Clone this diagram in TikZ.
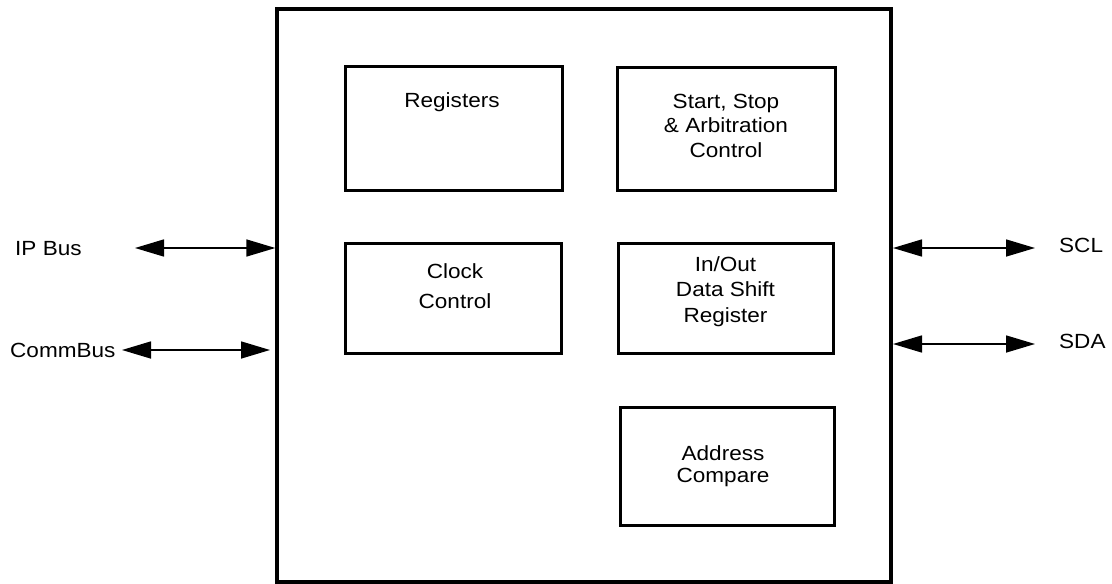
\documentclass[tikz,border=0pt]{standalone}
\usepackage{fontspec}
\setmainfont{Liberation Sans}[FakeStretch=1.1]
\usetikzlibrary{arrows.meta,positioning}

\begin{document}
\begin{tikzpicture}[x=1pt, y=-1pt,
    chipbox/.style={draw=black, line width=3.3pt, inner sep=0pt},
    blockbox/.style={draw=black, line width=3pt, inner sep=0pt},
    blocktext/.style={anchor=base, align=center, inner sep=0pt, font=\fontsize{20.5}{24}\selectfont},
    pintext/.style={anchor=base west, inner sep=0pt, font=\fontsize{20.5}{24}\selectfont},
    busarrow/.style={line width=1.6pt, {Triangle[length=29pt,width=17pt]}-{Triangle[length=29pt,width=17pt]}}]

    \useasboundingbox (0,0) rectangle (1112,584);

    % Outer block
    \node[chipbox, minimum width=614pt, minimum height=573pt] (chip) at (584,295.5) {};

    % Inner blocks
    \node[blockbox, minimum width=217pt, minimum height=124pt] (regs) at (453.5,128) {};
    \node[blockbox, minimum width=218pt, minimum height=123pt] (ssa) at (726,128.5) {};
    \node[blockbox, minimum width=216pt, minimum height=110pt] (clk) at (453,298) {};
    \node[blockbox, minimum width=215pt, minimum height=110pt] (shift) at (725.5,298) {};
    \node[blockbox, minimum width=214pt, minimum height=118pt] (addr) at (727,466) {};

    % Block labels (anchored at the last baseline)
    \node[blocktext] (regstext) at (452,107) {Registers};
    \node[blocktext] (ssatext) at (726,157) {Start, Stop\\[0.5pt] \& Arbitration\\[0.5pt] Control};
    \node[blocktext] (clktext) at (455,308) {Clock\\[6pt] Control};
    \node[blocktext] (shifttext) at (725.5,322) {In/Out\\[1.5pt] Data Shift\\[1.5pt] Register};
    \node[blocktext] (addrtext) at (723,482) {Address\\[-2pt] Compare};

    % Pins
    \node[pintext] (ipbus) at (15,255) {IP Bus};
    \node[pintext] (commbus) at (10,357) {CommBus};
    \node[pintext] (scl) at (1059,252) {SCL};
    \node[pintext] (sda) at (1059,348) {SDA};

    % Arrow ends
    \coordinate (ipL) at (135,248);
    \coordinate (ipR) at (chip.west |- ipL);
    \coordinate (commL) at (122,350);
    \coordinate (commR) at (270,350);
    \coordinate (sclL) at (893,248);
    \coordinate (sclR) at (1035,248);
    \coordinate (sdaL) at (893,344);
    \coordinate (sdaR) at (1035,344);

    \draw[busarrow] (ipL) -- (ipR);
    \draw[busarrow] (commL) -- (commR);
    \draw[busarrow] (sclL) -- (sclR);
    \draw[busarrow] (sdaL) -- (sdaR);

\end{tikzpicture}
\end{document}
